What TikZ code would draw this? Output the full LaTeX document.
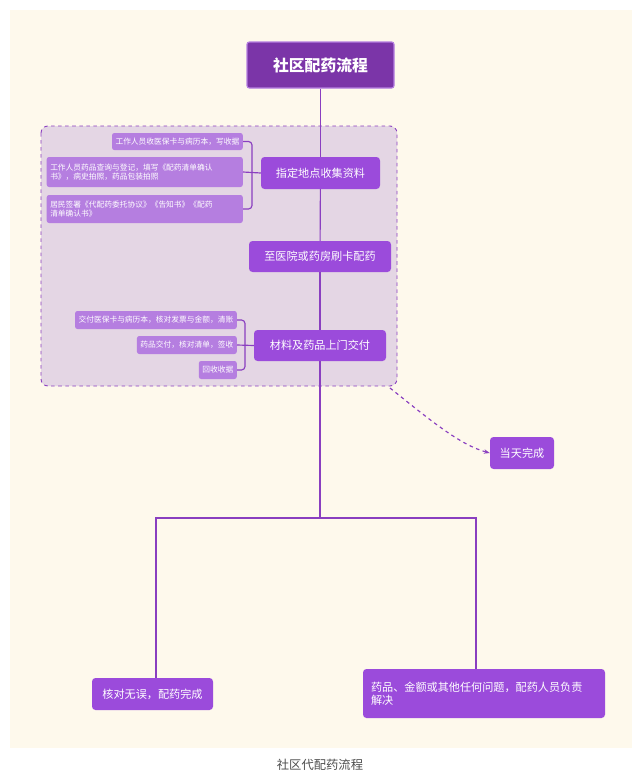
\documentclass[tikz,border=0pt]{standalone}
\usepackage{fontspec}
\setmainfont{Noto Sans CJK SC}
\usetikzlibrary{positioning,arrows.meta}
\definecolor{bgcream}{HTML}{FEF9EC}
\definecolor{stepfill}{HTML}{9B4BDB}
\definecolor{subfill}{HTML}{B57EE0}
\definecolor{titlefill}{HTML}{7B35A8}
\definecolor{linepurple}{HTML}{8A3FC0}
\definecolor{groupfill}{HTML}{E4D6E4}
\tikzset{
  stepbox/.style={rectangle, rounded corners=3pt, fill=stepfill, text=white, font=\fontsize{9.5pt}{11pt}\selectfont, inner sep=0pt, align=center},
  subbox/.style={rectangle, rounded corners=2pt, fill=subfill, text=white, font=\fontsize{6.6pt}{8pt}\selectfont, inner sep=0pt, inner xsep=3pt, align=left},
  link/.style={linepurple, line width=1pt},
}
\begin{document}
\begin{tikzpicture}[x=0.03cm,y=-0.03cm]
  \useasboundingbox (0,0) rectangle (640,779);
  \fill[bgcream] (10,10) rectangle (632,748);
  % group frame
  \draw[linepurple, dashed, fill=groupfill, rounded corners=6pt, line width=0.8pt] (41,126) rectangle (397,386);
  % main line
  \coordinate (split) at (320,518);
  \node[rectangle, rounded corners=2pt, fill=titlefill, draw=subfill, line width=1pt, text=white, font=\fontsize{13.5pt}{15pt}\selectfont\bfseries, minimum width=147*0.03cm, minimum height=46*0.03cm] (title) at (320.5,65) {社区配药流程};
  \node[stepbox, minimum width=119*0.03cm, minimum height=32*0.03cm] (collect) at (320.5,173) {指定地点收集资料};
  \node[stepbox, minimum width=142*0.03cm, minimum height=31*0.03cm] (buy) at (320,256.5) {至医院或药房刷卡配药};
  \node[stepbox, minimum width=132*0.03cm, minimum height=31*0.03cm] (deliver) at (320,345.5) {材料及药品上门交付};
  \draw[link] (title) -- (collect);
  \draw[link] (collect) -- (buy);
  \draw[link] (buy) -- (deliver);
  \draw[link] (deliver) -- (split);
  % collect details
  \node[subbox, minimum height=17*0.03cm, anchor=east] (c1) at (243,141.5) {工作人员收医保卡与病历本，写收据};
  \node[subbox, minimum height=30*0.03cm, text width=189*0.03cm, anchor=east] (c2) at (243,172) {工作人员药品查询与登记，填写《配药清单确认\\书》，病史拍照，药品包装拍照};
  \node[subbox, minimum height=28*0.03cm, text width=189*0.03cm, anchor=east] (c3) at (243,209) {居民签署《代配药委托协议》《告知书》《配药\\清单确认书》};
  \draw[link, rounded corners=3pt] (c1.east) -- (252,141.5) -- (252,209) -- (c3.east);
  \draw[link] (c2.east) -- (collect.west);
  % deliver details
  \node[subbox, minimum height=18*0.03cm, anchor=east] (d1) at (237,320) {交付医保卡与病历本，核对发票与金额，清账};
  \node[subbox, minimum height=18*0.03cm, anchor=east] (d2) at (237,345) {药品交付，核对清单，签收};
  \node[subbox, minimum height=18*0.03cm, anchor=east] (d3) at (237,370) {回收收据};
  \draw[link, rounded corners=3pt] (d1.east) -- (245,320) -- (245,370) -- (d3.east);
  \draw[link] (d2.east) -- (deliver.west);
  % same day
  \node[stepbox, minimum width=64*0.03cm, minimum height=32*0.03cm] (sameday) at (522,453) {当天完成};
  \coordinate (gcorner) at (390,388);
  \draw[link, dashed, -{Stealth[length=5pt]}] (gcorner) .. controls (430,420) and (460,445) .. (sameday.west);
  % outcomes
  \node[stepbox, minimum width=121*0.03cm, minimum height=32*0.03cm] (ok) at (152.5,694) {核对无误，配药完成};
  \node[stepbox, minimum width=242*0.03cm, minimum height=49*0.03cm, text width=226*0.03cm, align=left] (issue) at (484,693.5) {药品、金额或其他任何问题，配药人员负责\\解决};
  \draw[link] (split) -| (156,678);
  \draw[link] (split) -| (476,669);
  \node[font=\fontsize{10.5pt}{12pt}\selectfont, text=black!70] (caption) at (320,765) {社区代配药流程};
\end{tikzpicture}
\end{document}
